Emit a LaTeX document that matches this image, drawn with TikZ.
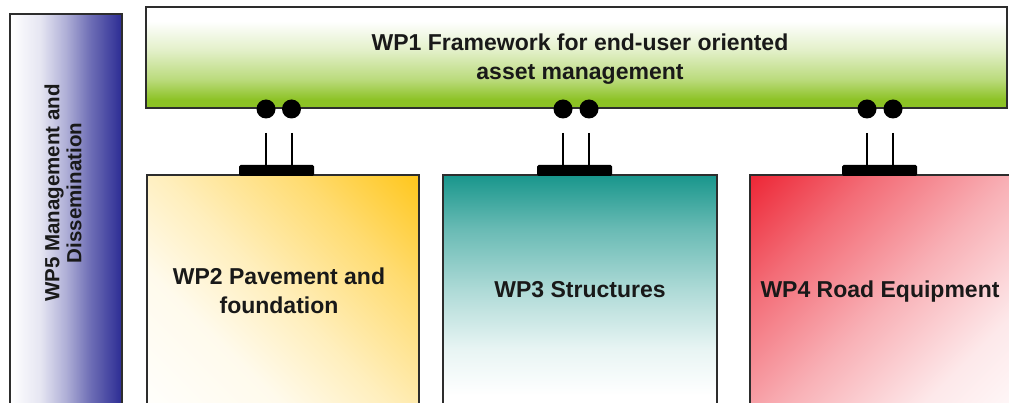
\documentclass[tikz,border=0pt]{standalone}
\usepackage{fontspec}
\setmainfont{Liberation Sans}
\definecolor{wpgreen}{RGB}{140,194,36}
\definecolor{wpblue}{RGB}{44,44,148}
\definecolor{wporange}{RGB}{255,196,18}
\definecolor{wpteal}{RGB}{24,150,140}
\definecolor{wpred}{RGB}{236,28,44}
\definecolor{edgec}{RGB}{45,45,45}
\definecolor{txtc}{RGB}{25,25,25}
\colorlet{gA}{wpgreen!60!white}
\colorlet{gB}{wpgreen!25!white}
\colorlet{bA}{wpblue!12!white}
\colorlet{bB}{wpblue!38!white}
\colorlet{bC}{wpblue!68!white}
\colorlet{oA}{wporange!8!white}
\colorlet{oB}{wporange!28!white}
\colorlet{oC}{wporange!60!white}
\colorlet{tA}{wpteal!65!white}
\colorlet{tB}{wpteal!35!white}
\colorlet{tC}{wpteal!10!white}
\colorlet{rA}{wpred!10!white}
\colorlet{rB}{wpred!35!white}
\colorlet{rC}{wpred!65!white}
\pgfdeclareverticalshading{wponeshade}{100bp}{color(0bp)=(wpgreen); color(29bp)=(wpgreen); color(39bp)=(gA); color(53.5bp)=(gB); color(68bp)=(white); color(100bp)=(white)}
\pgfdeclarehorizontalshading{wpfiveshade}{100bp}{color(0bp)=(white); color(25bp)=(white); color(38.5bp)=(bA); color(50bp)=(bB); color(60.5bp)=(bC); color(75bp)=(wpblue); color(100bp)=(wpblue)}
\pgfdeclareverticalshading{wptwoshade}{100bp}{color(0bp)=(white); color(12.7bp)=(white); color(35.1bp)=(oA); color(50bp)=(oB); color(68.7bp)=(oC); color(87.3bp)=(wporange); color(100bp)=(wporange)}
\pgfdeclareverticalshading{wpthreeshade}{100bp}{color(0bp)=(white); color(30bp)=(white); color(39.5bp)=(tC); color(51.5bp)=(tB); color(64bp)=(tA); color(75bp)=(wpteal); color(100bp)=(wpteal)}
\pgfdeclareverticalshading{wpfourshade}{100bp}{color(0bp)=(white); color(12.1bp)=(white); color(31bp)=(rA); color(50bp)=(rB); color(69bp)=(rC); color(87.9bp)=(wpred); color(100bp)=(wpred)}
\begin{document}
\begin{tikzpicture}[x=1pt,y=-1pt,
  wpbox/.style={draw=edgec, line width=2pt},
  lbl/.style={font=\fontsize{23}{28.5}\selectfont\bfseries, text=txtc, align=center, inner sep=0pt},
  lblfive/.style={font=\fontsize{20.5}{22}\selectfont\bfseries, text=txtc, align=center, inner sep=0pt},
  dotnode/.style={circle, fill=black, minimum size=19pt, inner sep=0pt},
  barnode/.style={fill=black, rounded corners=1.5pt, minimum width=75pt, minimum height=11pt, inner sep=0pt},
  link/.style={line width=2pt}]
\useasboundingbox (0,0) rectangle (1009,403);
\begin{scope}
\clip (0,0) rectangle (1009,403);
\fill[white] (0,0) rectangle (1009,403);
% boxes
\shadedraw[wpbox, shading=wpfiveshade] (10,14) rectangle (122,420);
\shadedraw[wpbox, shading=wponeshade] (146,7) rectangle (1007,108);
\shadedraw[wpbox, shading=wptwoshade, shading angle=-45] (147,175) rectangle (419,420);
\shadedraw[wpbox, shading=wpthreeshade] (443,175) rectangle (717,420);
\shadedraw[wpbox, shading=wpfourshade, shading angle=45] (750,175) rectangle (1030,420);
% labels
\node[lblfive, rotate=90] (t5) at (63,193) {WP5 Management and\\Dissemination};
\node[lbl] (t1) at (580,59) {WP1 Framework for end-user oriented\\asset management};
\node[lbl] (t2) at (279,291) {WP2 Pavement and\\foundation};
\node[lbl] (t3) at (580,290) {WP3 Structures};
\node[lbl] (t4) at (880,292) {WP4 Road Equipment};
% connectors
\foreach \i/\xa/\xb/\xc in {1/266/291.5/276.5, 2/563/589/574.5, 3/867/893/879.5}{
  \node[dotnode] (d\i a) at (\xa,109) {};
  \node[dotnode] (d\i b) at (\xb,109) {};
  \node[barnode] (b\i) at (\xc,170.5) {};
  \coordinate (s\i a) at (\xa,133);
  \coordinate (s\i b) at (\xb,133);
  \draw[link] (s\i a) -- (s\i a |- b\i.north);
  \draw[link] (s\i b) -- (s\i b |- b\i.north);
}
\end{scope}
\end{tikzpicture}
\end{document}
